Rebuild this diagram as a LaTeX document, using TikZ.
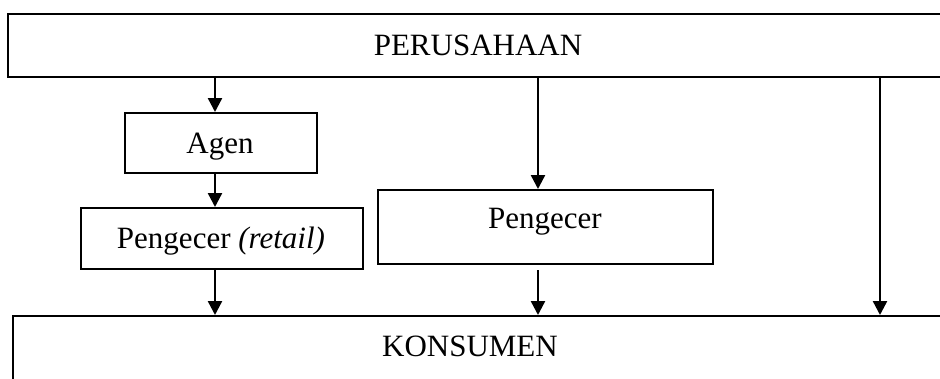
\documentclass[tikz,border=0pt]{standalone}
\usepackage{fontspec}
\setmainfont{Liberation Serif}
\usetikzlibrary{arrows.meta}
\begin{document}
\begin{tikzpicture}[x=1pt,y=-1pt,
  box/.style={draw, line width=2pt, rectangle, inner sep=0pt, anchor=north west},
  flow/.style={line width=2.4pt, -{Triangle[width=14pt,length=14pt]}},
  lbl/.style={font=\fontsize{31}{37}\selectfont, inner sep=0pt, anchor=base}]
\useasboundingbox (0,0) rectangle (940,378);
\clip (0,0) rectangle (940,378);
% boxes
\node[box, minimum width=944pt, minimum height=63pt] (perus) at (7,13) {};
\node[box, minimum width=192pt, minimum height=60pt] (agen) at (124,112) {};
\node[box, minimum width=282pt, minimum height=61pt] (retail) at (80,207) {};
\node[box, minimum width=335pt, minimum height=74pt] (peng) at (377,189) {};
\node[box, minimum width=960pt, minimum height=100pt] (kons) at (12,315) {};
% labels
\node[lbl] (perustxt) at (478,55) {PERUSAHAAN};
\node[lbl] (agentxt) at (220,153) {Agen};
\node[lbl] (retailtxt) at (221,248) {Pengecer \textit{(retail)}};
\node[lbl] (pengtxt) at (545,228) {Pengecer};
\node[lbl] (konstxt) at (470,356) {KONSUMEN};
% arrow positions
\coordinate (a1) at (215,0);
\coordinate (a2) at (538,0);
\coordinate (a3) at (880,0);
% arrows
\draw[flow] (a1 |- perus.south) -- (a1 |- agen.north);
\draw[flow] (a1 |- agen.south) -- (a1 |- retail.north);
\draw[flow] (a1 |- retail.south) -- (a1 |- kons.north);
\draw[flow] (a2 |- perus.south) -- (a2 |- peng.north);
\draw[flow, shorten <=5pt] (a2 |- peng.south) -- (a2 |- kons.north);
\draw[flow] (a3 |- perus.south) -- (a3 |- kons.north);
\end{tikzpicture}
\end{document}
